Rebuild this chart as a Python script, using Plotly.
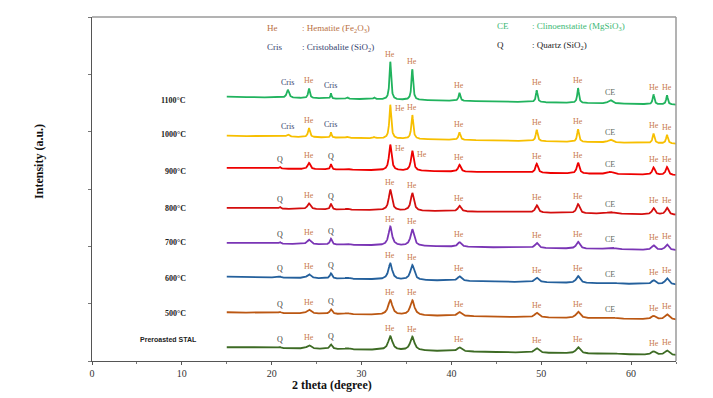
import numpy as np
import plotly.graph_objects as go

# ---------------- data ----------------
series_names = ["1100°C", "1000°C", "900°C", "800°C", "700°C", "600°C", "500°C", "Preroasted STAL"]
series_colors = ["#21b35e", "#f7bf00", "#ee0000", "#d40d0d", "#7a35b5", "#24609c", "#bb5712", "#3d6b24"]
# baseline intensity at 2θ = 15 and its drop by 2θ = 65 (a.u.)
baseline_start = [4.61, 3.93, 3.37, 2.67, 2.06, 1.47, 0.85, 0.24]
baseline_drop = [0.14, 0.14, 0.13, 0.12, 0.13, 0.14, 0.13, 0.14]
# peak FWHM (degree) per sample
peak_fwhm = [0.22, 0.25, 0.34, 0.40, 0.46, 0.50, 0.55, 0.55]

peak_pos = [20.9, 21.8, 24.15, 26.6, 28.4, 31.4, 33.2, 35.65, 40.9, 49.5, 54.1, 57.7, 62.5, 64.0]
peak_sharp = [0.6, 1.4, 1.0, 0.6, 1.0, 1.0, 1.0, 1.0, 1.0, 1.0, 1.0, 2.5, 1.0, 1.0]
peak_heights = [
    [0.00, 0.14, 0.17, 0.09, 0.03, 0.03, 0.66, 0.54, 0.14, 0.21, 0.26, 0.06, 0.17, 0.16],
    [0.00, 0.04, 0.16, 0.09, 0.02, 0.02, 0.59, 0.42, 0.13, 0.20, 0.22, 0.05, 0.17, 0.15],
    [0.03, 0.00, 0.11, 0.09, 0.02, 0.00, 0.45, 0.35, 0.12, 0.16, 0.19, 0.04, 0.13, 0.14],
    [0.03, 0.00, 0.10, 0.10, 0.02, 0.00, 0.36, 0.31, 0.10, 0.13, 0.16, 0.03, 0.11, 0.12],
    [0.03, 0.00, 0.08, 0.10, 0.02, 0.00, 0.33, 0.29, 0.08, 0.09, 0.12, 0.03, 0.08, 0.10],
    [0.02, 0.00, 0.07, 0.09, 0.02, 0.00, 0.28, 0.26, 0.08, 0.08, 0.12, 0.02, 0.07, 0.11],
    [0.02, 0.00, 0.07, 0.08, 0.02, 0.00, 0.26, 0.26, 0.07, 0.08, 0.11, 0.02, 0.06, 0.09],
    [0.02, 0.00, 0.06, 0.08, 0.02, 0.00, 0.24, 0.24, 0.07, 0.08, 0.11, 0.02, 0.06, 0.08],
]
# phase labels: (peak index, text) per sample
peak_labels = [
    [(1, "Cris"), (2, "He"), (3, "Cris"), (6, "He"), (7, "He"), (8, "He"), (9, "He"), (10, "He"), (11, "CE"), (12, "He"), (13, "He")],
    [(1, "Cris"), (2, "He"), (3, "Cris"), (6, "He"), (7, "He"), (8, "He"), (9, "He"), (10, "He"), (11, "CE"), (12, "He"), (13, "He")],
    [(0, "Q"), (2, "He"), (3, "Q"), (6, "He"), (7, "He"), (8, "He"), (9, "He"), (10, "He"), (11, "CE"), (12, "He"), (13, "He")],
    [(0, "Q"), (2, "He"), (3, "Q"), (6, "He"), (7, "He"), (8, "He"), (9, "He"), (10, "He"), (11, "CE"), (12, "He"), (13, "He")],
    [(0, "Q"), (2, "He"), (3, "Q"), (6, "He"), (7, "He"), (8, "He"), (9, "He"), (10, "He"), (11, "CE"), (12, "He"), (13, "He")],
    [(0, "Q"), (2, "He"), (3, "Q"), (6, "He"), (7, "He"), (8, "He"), (9, "He"), (10, "He"), (11, "CE"), (12, "He"), (13, "He")],
    [(0, "Q"), (2, "He"), (3, "Q"), (6, "He"), (7, "He"), (8, "He"), (9, "He"), (10, "He"), (11, "CE"), (12, "He"), (13, "He")],
    [(0, "Q"), (2, "He"), (3, "Q"), (6, "He"), (7, "He"), (8, "He"), (9, "He"), (10, "He"), (12, "He"), (13, "He")],
]
legend_codes = ["He", "Cris", "CE", "Q"]
legend_names = [": Hematite (Fe<sub>2</sub>O<sub>3</sub>)", ": Cristobalite (SiO<sub>2</sub>)",
                ": Clinoenstatite (MgSiO<sub>3</sub>)", ": Quartz (SiO<sub>2</sub>)"]
x_ticks = [0, 10, 20, 30, 40, 50, 60]

# ---------------- styling ----------------
label_colors = {"He": "#c97a4c", "Cris": "#35426e", "Q": "#3c3c3c", "CE": "#5f6b62"}
legend_colors = ["#b9703f", "#35426e", "#3cb874", "#222222"]
SERIF = "Liberation Serif, Times New Roman, serif"
# labels drawn beside (right of) the peak instead of above: (sample, peak index)
side_labels = {(1, 6), (2, 6), (2, 7)}
name_yshift = [-4, 1, -4, -1, 0, -2, -1, 8]

x = np.arange(15.0, 65.0001, 0.02)


def pattern(i):
    y = baseline_start[i] - baseline_drop[i] * (x - 15.0) / 50.0
    for c, h, s in zip(peak_pos, peak_heights[i], peak_sharp):
        hw = peak_fwhm[i] * s / 2.0
        y = y + h / (1.0 + ((x - c) / hw) ** 2)
    return y


fig = go.Figure()
annotations = []
for i, name in enumerate(series_names):
    y = pattern(i)
    fig.add_trace(go.Scatter(x=x, y=y, mode="lines", line=dict(color=series_colors[i], width=1.8),
                             name=name, showlegend=False, hoverinfo="skip"))
    for idx, txt in peak_labels[i]:
        px_ = peak_pos[idx]
        top = float(np.interp(px_, x, y))
        if (i, idx) in side_labels:
            annotations.append(dict(x=px_ + 0.25, y=top, xref="x", yref="y", text=txt, showarrow=False,
                                    xanchor="left", yanchor="top", yshift=3,
                                    font=dict(family=SERIF, size=8, color=label_colors[txt])))
        else:
            annotations.append(dict(x=px_, y=top, xref="x", yref="y", text=txt, showarrow=False,
                                    xanchor="center", yanchor="bottom", yshift=1,
                                    font=dict(family=SERIF, size=8, color=label_colors[txt])))
    if name.startswith("Pre"):
        annotations.append(dict(x=8.46, y=baseline_start[i], xref="x", yref="y", text="<b>" + name + "</b>",
                                showarrow=False, xanchor="center", yanchor="middle", yshift=name_yshift[i],
                                font=dict(family="Liberation Sans, Arial, sans-serif", size=7, color="#222")))
    else:
        annotations.append(dict(x=10.7, y=baseline_start[i], xref="x", yref="y", text="<b>" + name + "</b>",
                                showarrow=False, xanchor="right", yanchor="middle", yshift=name_yshift[i],
                                font=dict(family=SERIF, size=8, color="#222")))

# legend text block
leg_pos = [(19.2, 5.8), (19.2, 5.47), (44.9, 5.84), (44.9, 5.51)]
for (lx, ly), code, nm, col in zip(leg_pos, legend_codes, legend_names, legend_colors):
    annotations.append(dict(x=lx, y=ly, xref="x", yref="y", text=code, showarrow=False, xanchor="left",
                            yanchor="middle", font=dict(family=SERIF, size=9, color=col)))
    annotations.append(dict(x=lx + 3.9, y=ly, xref="x", yref="y", text=nm, showarrow=False, xanchor="left",
                            yanchor="middle", font=dict(family=SERIF, size=9, color=col)))

# axis titles
annotations.append(dict(x=26.7, y=0, xref="x", yref="paper", yshift=-24, text="<b>2 theta (degree)</b>",
                        showarrow=False, xanchor="center", yanchor="middle",
                        font=dict(family=SERIF, size=12, color="#111")))
annotations.append(dict(x=-0.09, y=0.58, xref="paper", yref="paper", text="<b>Intensity (a.u.)</b>",
                        showarrow=False, textangle=-90, xanchor="center", yanchor="middle",
                        font=dict(family=SERIF, size=12, color="#111")))

# the page body adds an 8 px offset, so the figure is sized/margined to compensate
fig.update_layout(
    width=705, height=390,
    margin=dict(l=84, r=37, t=9, b=37),
    paper_bgcolor="white", plot_bgcolor="white",
    annotations=annotations,
    shapes=[dict(type="line", xref="paper", yref="paper", x0=0, x1=1, y0=1, y1=1,
                 line=dict(color="#9a9a9a", width=1.5)),
            dict(type="line", xref="paper", yref="paper", x0=1, x1=1, y0=0, y1=1,
                 line=dict(color="#9a9a9a", width=1.5))],
)
fig.update_xaxes(range=[0, 65], tickvals=x_ticks, ticks="outside", ticklen=3, tickcolor="#555",
                 showline=True, linecolor="#555", linewidth=1.2, showgrid=False, zeroline=False,
                 minor=dict(dtick=5, ticks="outside", ticklen=2, tickcolor="#777"),
                 tickfont=dict(family=SERIF, size=10, color="#333"))
fig.update_yaxes(range=[0, 6], tickvals=[0, 1, 2, 3, 4, 5, 6], showticklabels=False, ticks="outside",
                 ticklen=3, tickcolor="#777", showline=True, linecolor="#555", linewidth=1.2,
                 showgrid=False, zeroline=False)

fig.write_html("out.html")
